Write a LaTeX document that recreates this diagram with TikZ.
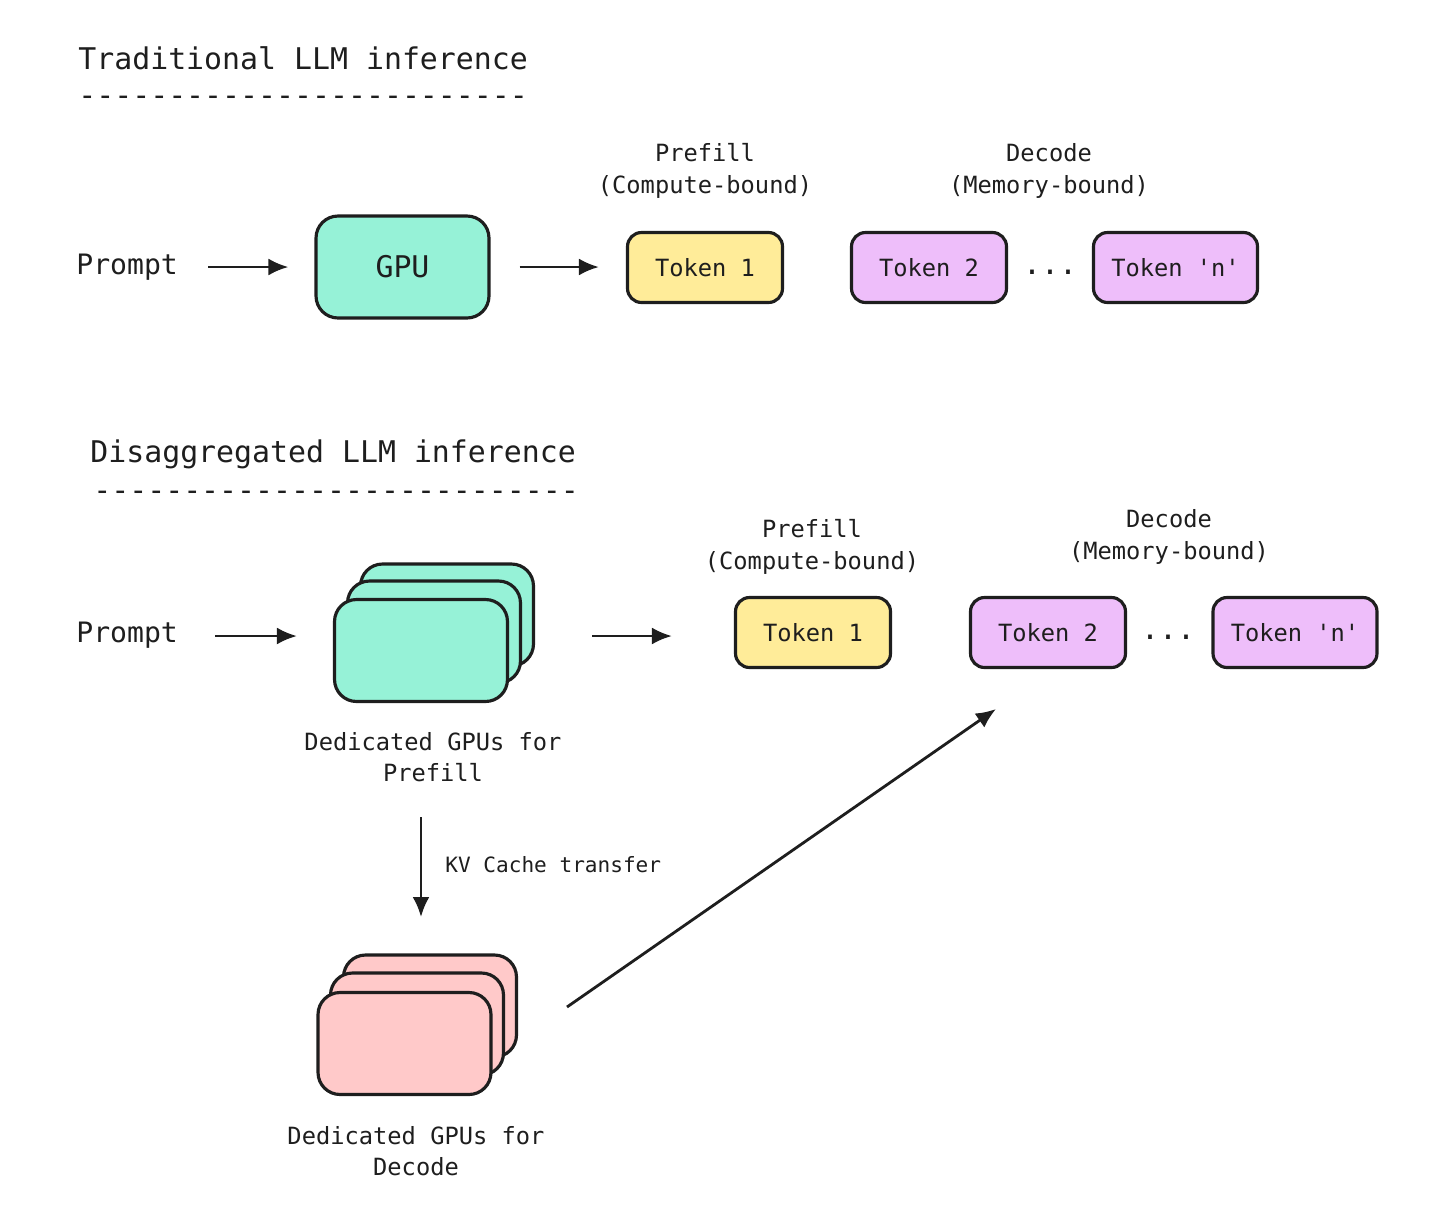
\documentclass[tikz,border=0pt]{standalone}
\usepackage{fontspec}
\setmonofont{DejaVu Sans Mono}
\usepackage{xcolor}
\usepackage{tikz}
\usetikzlibrary{arrows.meta, positioning, calc}

\definecolor{ink}{HTML}{1E1E1E}
\definecolor{gputeal}{HTML}{96F2D7}
\definecolor{tokyellow}{HTML}{FFEC99}
\definecolor{tokpurple}{HTML}{EEBEFA}
\definecolor{decpink}{HTML}{FFC9C9}

\begin{document}
\begin{tikzpicture}[x=0.02cm, y=-0.02cm]
        \tikzstyle{title} = [anchor=west, inner sep=0pt, text=ink, font=\ttfamily\fontsize{17}{20}\selectfont]
        \tikzstyle{dashline} = [anchor=west, inner sep=0pt, text=ink, font=\ttfamily\fontsize{17}{20}\selectfont]
        \tikzstyle{label} = [inner sep=0pt, text=ink, align=center, font=\ttfamily\fontsize{13.5}{18}\selectfont]
        \tikzstyle{prompt} = [anchor=west, inner sep=0pt, text=ink, font=\ttfamily\fontsize{16}{19}\selectfont]
        \tikzstyle{card} = [rectangle, rounded corners=0.44cm, minimum width=3.46cm, minimum height=2.04cm, draw=ink, line width=1.8pt, text=ink, font=\ttfamily\fontsize{17}{20}\selectfont]
        \tikzstyle{token} = [rectangle, rounded corners=0.28cm, minimum width=3.1cm, minimum height=1.4cm, draw=ink, line width=1.8pt, text=ink, font=\ttfamily\fontsize{13.5}{16}\selectfont]
        \tikzstyle{arrow} = [line width=1.6pt, draw=ink, -{Latex[length=0.4cm, width=0.34cm]}]

        \useasboundingbox (0,0) rectangle (1430,1214);

        % Traditional
        \node (title1) [title] at (78,58) {Traditional LLM inference};
        \node (dash1) [dashline] at (78,101) {-------------------------};
        \node (prompt1) [prompt] at (76,267) {Prompt};
        \node (gpu) [card, fill=gputeal] at (402.5,267) {GPU};
        \node (tok1a) [token, fill=tokyellow] at (705,267.5) {Token 1};
        \node (tok2a) [token, fill=tokpurple] at (929,267.5) {Token 2};
        \node (dotsa) [label, font=\ttfamily\fontsize{17}{20}\selectfont] at (1050,272) {...};
        \node (tokna) [token, fill=tokpurple, minimum width=3.28cm] at (1175.5,267.5) {Token 'n'};
        \node (prefa) [label] at (705,171) {Prefill\\(Compute-bound)};
        \node (deca) [label] at (1049,171) {Decode\\(Memory-bound)};

        \draw [arrow, shorten <=0.6cm, shorten >=0.52cm] (prompt1.east |- gpu) -- (gpu);
        \draw [arrow, shorten <=0.58cm, shorten >=0.54cm] (gpu) -- (tok1a.west |- gpu);

        % Disaggregated
        \node (title2) [title] at (90,454) {Disaggregated LLM inference};
        \node (dash2) [dashline] at (93,496) {---------------------------};
        \node (prompt2) [prompt] at (76,635) {Prompt};
        \node (pre3) [card, fill=gputeal] at (447,615) {};
        \node (pre2) [card, fill=gputeal] at (434,632) {};
        \node (pre1) [card, fill=gputeal] at (421,650.5) {};
        \node (prelbl) [label] at (433,757) {Dedicated GPUs for\\Prefill};
        \node (tok1b) [token, fill=tokyellow] at (813,632.5) {Token 1};
        \node (tok2b) [token, fill=tokpurple] at (1048,632.5) {Token 2};
        \node (dotsb) [label, font=\ttfamily\fontsize{17}{20}\selectfont] at (1168,637) {...};
        \node (toknb) [token, fill=tokpurple, minimum width=3.28cm] at (1295,632.5) {Token 'n'};
        \node (prefb) [label] at (812,547) {Prefill\\(Compute-bound)};
        \node (decb) [label] at (1169,537) {Decode\\(Memory-bound)};
        \node (dec3) [card, fill=decpink] at (430,1006) {};
        \node (dec2) [card, fill=decpink] at (417,1024) {};
        \node (dec1) [card, fill=decpink] at (404.5,1043.5) {};
        \node (declbl) [label] at (416,1151) {Dedicated GPUs for\\Decode};
        \node (kvlbl) [anchor=west, inner sep=0pt, text=ink, font=\ttfamily\fontsize{12}{14}\selectfont] at (445,865) {KV Cache transfer};

        \coordinate (kvtop) at (421,817);
        \coordinate (kvbot) at (421,917);
        \coordinate (diagstart) at (567,1007);
        \coordinate (diagend) at (996,709);

        \draw [arrow, shorten <=0.74cm, shorten >=0.72cm] (prompt2.east |- 0,636) -- (pre1.west |- 0,636);
        \draw [arrow, shorten <=1.14cm, shorten >=1.24cm] (pre3.east |- 0,636) -- (tok1b.west |- 0,636);
        \draw [arrow] (kvtop) -- (kvbot);
        \draw [arrow] (diagstart) -- (diagend);
\end{tikzpicture}
\end{document}
